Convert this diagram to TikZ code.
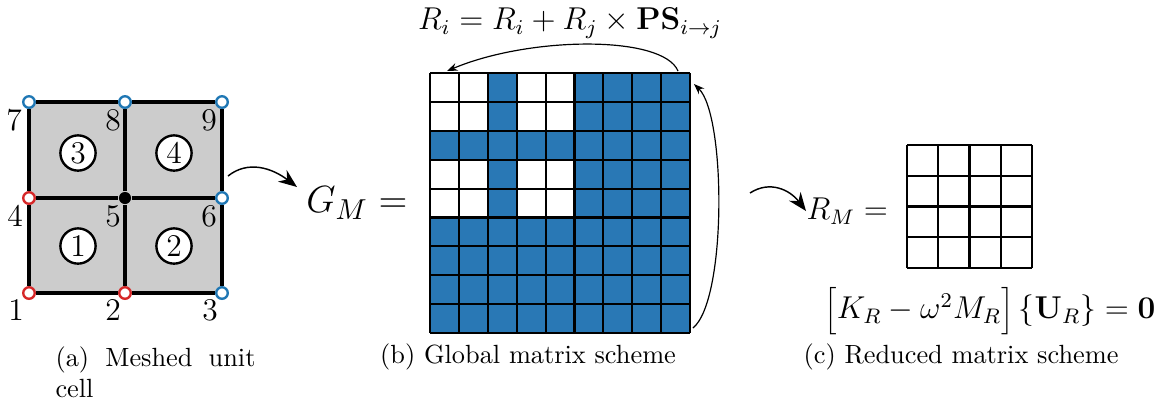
\documentclass[tikz,border=0pt]{standalone}
\usetikzlibrary{arrows.meta}
\definecolor{mblue}{RGB}{41,120,181}
\definecolor{nred}{RGB}{214,39,40}
\definecolor{nblue}{RGB}{31,119,180}
\begin{document}
\begin{tikzpicture}[x=0.38pt,y=-0.38pt,
  meshpt/.style={circle,draw,fill=white,line width=0.9pt,inner sep=0pt,minimum size=4.4pt},
  redpt/.style={meshpt,draw=nred},
  bluept/.style={meshpt,draw=nblue},
  blackpt/.style={circle,fill=black,inner sep=0pt,minimum size=4.6pt},
  meshline/.style={line width=1.4pt},
  numlbl/.style={font=\large,inner sep=0pt},
  elem/.style={circle,draw,line width=0.9pt,fill=white,inner sep=0pt,minimum size=13.4pt,font=\large},
  cellline/.style={line width=0.8pt},
  conn/.style={-{Stealth[length=4pt,width=3pt]},line width=0.45pt},
  bigconn/.style={-{Stealth[length=7pt,width=5.5pt]},line width=0.55pt},
  captxt/.style={font=\normalsize,inner sep=0pt}]
\useasboundingbox (0,0) rectangle (1173,405);
% ---------- mesh ----------
\coordinate (c1) at (29,293);
\coordinate (c9) at (222,102);
\fill[black!20] (c1) rectangle (c9);
\node[redpt]  (n1) at (29,293) {};
\node[redpt]  (n2) at (125,293) {};
\node[bluept] (n3) at (222,293) {};
\node[redpt]  (n4) at (29,198) {};
\node[blackpt](n5) at (125,198) {};
\node[bluept] (n6) at (222,198) {};
\node[bluept] (n7) at (29,102) {};
\node[bluept] (n8) at (125,102) {};
\node[bluept] (n9) at (222,102) {};
\draw[meshline] (n1) -- (n2); \draw[meshline] (n2) -- (n3);
\draw[meshline] (n4) -- (n5); \draw[meshline] (n5) -- (n6);
\draw[meshline] (n7) -- (n8); \draw[meshline] (n8) -- (n9);
\draw[meshline] (n1) -- (n4); \draw[meshline] (n4) -- (n7);
\draw[meshline] (n2) -- (n5); \draw[meshline] (n5) -- (n8);
\draw[meshline] (n3) -- (n6); \draw[meshline] (n6) -- (n9);
\node[numlbl] (l7) at (14,120) {7};
\node[numlbl] (l8) at (113,120) {8};
\node[numlbl] (l9) at (209,120) {9};
\node[numlbl] (l4) at (15,216) {4};
\node[numlbl] (l5) at (113,216) {5};
\node[numlbl] (l6) at (209,216) {6};
\node[numlbl] (l1) at (16,310) {1};
\node[numlbl] (l2) at (113,310) {2};
\node[numlbl] (l3) at (210,310) {3};
\node[elem] (e3) at (78,153) {3};
\node[elem] (e4) at (174,153) {4};
\node[elem] (e1) at (78,246) {1};
\node[elem] (e2) at (174,246) {2};
\node[captxt,anchor=north west,align=left] (capa) at (55,346) {\makebox[76pt][s]{(a) Meshed unit}\\cell};
% ---------- global matrix ----------
\node[font=\fontsize{15}{18}\selectfont,inner sep=0pt] (gm) at (357,203) {$G_M =$};
\fill[mblue] (430,73) rectangle (690,333);
\foreach \r in {1,2,4,5}{
  \foreach \c in {1,2,4,5}{
    \fill[white] ({430+(\c-1)*260/9},{73+(\r-1)*260/9}) rectangle ({430+\c*260/9},{73+\r*260/9});
  }
}
\foreach \i in {0,...,9}{
  \draw[cellline] ({430+\i*260/9},73) -- ({430+\i*260/9},333);
  \draw[cellline] (430,{73+\i*260/9}) -- (690,{73+\i*260/9});
}
\coordinate (topR) at (678,71);
\coordinate (topL) at (447,71);
\coordinate (botR) at (693,328);
\coordinate (upR) at (694,84);
\node[font=\large,inner sep=0pt] (ps) at (570,23) {$R_i = R_i + R_j \times \mathbf{PS}_{i\rightarrow j}$};
\draw[conn] (topR) .. controls (663,35) and (530,36) .. (topL);
\draw[conn] (botR) .. controls (727,300) and (726,115) .. (upR);
\node[captxt] (capb) at (528,357) {(b) Global matrix scheme};
% ---------- reduced ----------
\coordinate (a1s) at (228,176);
\coordinate (a2s) at (750,193);
\node[font=\large,inner sep=0pt,anchor=west] (rm) at (806,211) {$R_M =$};
\draw[bigconn] (a1s) .. controls (248,160) and (272,168) .. (297,187);
\draw[bigconn] (a2s) .. controls (770,180) and (790,190) .. (rm.west);
\foreach \i in {0,...,4}{
  \draw[cellline,line width=0.9pt] ({907+\i*125/4},145) -- ({907+\i*125/4},268);
  \draw[cellline,line width=0.9pt] (907,{145+\i*123/4}) -- (1032,{145+\i*123/4});
}
\node[font=\large,inner sep=0pt] (eq) at (990,311) {$\Bigl[K_R - \omega^2 M_R\Bigr]\,\bigl\{\mathbf{U}_R\bigr\} = \mathbf{0}$};
\node[captxt] (capc) at (961,357) {(c) Reduced matrix scheme};
\end{tikzpicture}
\end{document}
